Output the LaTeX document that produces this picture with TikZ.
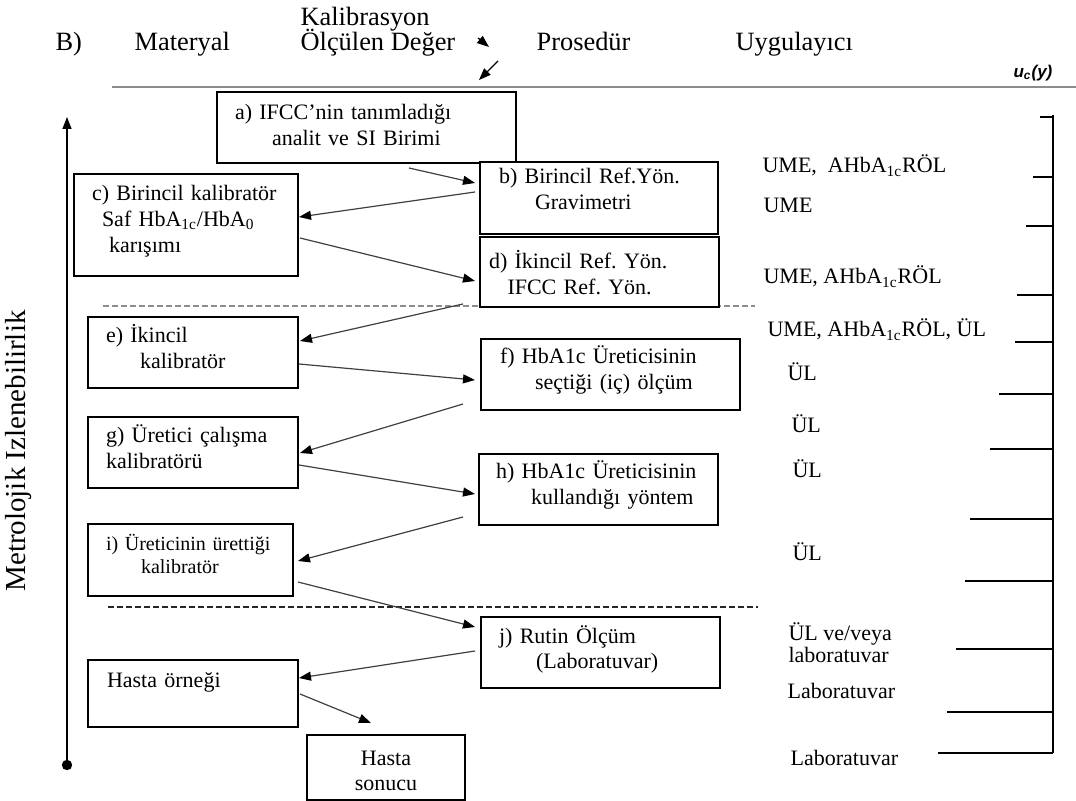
\documentclass[tikz,border=0pt]{standalone}
\usepackage{fontspec}
\setmainfont{Liberation Serif}
\newfontfamily\ucfont{Liberation Sans}
\usetikzlibrary{arrows.meta,calc,positioning}
\frenchspacing

\newcommand{\boxfont}{\fontsize{11}{12.8}\selectfont}
\newcommand{\headfont}{\fontsize{13.2}{14}\selectfont}

\begin{document}
\begin{tikzpicture}
  [
  x=0.5pt, y=-0.5pt, line width=0.6pt, >={Triangle[length=6pt,width=4.5pt,color=black]},
  stepnode/.style={rectangle, draw=black, line width=1pt, fill=white, anchor=north west, align=left, inner ysep=0pt, text height=13pt, font=\boxfont},
  headnode/.style={anchor=base west, inner sep=0pt, font=\headfont},
  usernode/.style={anchor=base west, inner sep=0pt, align=left, font=\boxfont},
  flow/.style={->, draw=black!75, line width=0.6pt},
  ]
  \useasboundingbox (0,0) rectangle (1076,801);

  % column heads
  \node[headnode] (hb) at (55,51) {B)};
  \node[headnode] (hmat) at (134,51) {Materyal};
  \node[headnode] (hkal) at (300,26) {Kalibrasyon};
  \node[headnode] (hval) at (300,51) {Ölçülen Değer};
  \node[headnode] (hpro) at (536,51) {Prosedür};
  \node[headnode] (husr) at (735,51) {Uygulayıcı};
  \node[anchor=base west, inner sep=0pt, font={\ucfont\fontsize{8.5}{10}\selectfont\bfseries\itshape}] (huc) at (1013,78) {u\textsubscript{c}(y)};
  \draw[black!45, line width=1.2pt] (112,87) -- (1076,87);

  \coordinate (hs1) at (478,38);
  \coordinate (he1) at (489,47);
  \coordinate (hs2) at (498,61);
  \coordinate (he2) at (479,80);
  \draw[->] (hs1) -- (he1);
  \draw[->] (hs2) -- (he2);

  % traceability axis
  \coordinate (axbot) at (67,765);
  \coordinate (axtop) at (67,117);
  \draw[->, line width=0.7pt] (axbot) -- (axtop);
  \fill (axbot) circle (2.6pt);
  \node[rotate=90, font=\fontsize{14.5}{16}\selectfont] (trace) at (19,451) {Metrolojik Izlenebilirlik};

  % level separators
  \draw[black!45, dash pattern=on 3pt off 1.5pt, line width=0.8pt] (103,306) -- (755,306);
  \draw[black!85, dash pattern=on 3pt off 1.5pt, line width=0.6pt] (108,607) -- (758,607);

  % boxes
  \node[stepnode, inner xsep=9pt, text width=131.5pt, text height=14pt, text depth=21.5pt] (a) at (216,91)
    {a) IFCC’nin tanımladığı\\\hspace*{18.5pt}analit ve SI Birimi};
  \node[stepnode, inner xsep=9.5pt, text width=100pt, text height=11pt, text depth=25pt] (b) at (479,161)
    {b) Birincil Ref.Yön.\\\hspace*{18pt}Gravimetri};
  \node[stepnode, inner xsep=9pt, text width=94pt, text height=13.5pt, text depth=37.5pt] (c) at (73,173)
    {c)~Birincil~kalibratör\\\hspace*{5pt}Saf HbA\textsubscript{1c}/HbA\textsubscript{0}\\\hspace*{8.5pt}karışımı};
  \node[stepnode, inner xsep=4.5pt, text width=110.5pt, text height=16pt, text depth=19pt] (d) at (479,236)
    {d) İkincil Ref. Yön.\\\hspace*{9.25pt}IFCC Ref. Yön.};
  \node[stepnode, inner xsep=9pt, text width=87pt, text depth=22.5pt] (e) at (87,316)
    {e) İkincil\\\hspace*{17pt}kalibratör};
  \node[stepnode, inner xsep=9.5pt, text width=110.5pt, text height=12.5pt, text depth=23pt] (f) at (480,338)
    {f)~HbA1c~Üreticisinin\\\hspace*{17.5pt}seçtiği (iç) ölçüm};
  \node[stepnode, inner xsep=9pt, text width=87pt, text depth=22.5pt] (g) at (87,416)
    {g) Üretici çalışma\\kalibratörü};
  \node[stepnode, inner xsep=8.5pt, text width=102.5pt, text height=12.5pt, text depth=23pt] (h) at (478,453)
    {h)~HbA1c~Üreticisinin\\\hspace*{17.5pt}kullandığı~yöntem};
  \node[stepnode, font=\fontsize{10}{11.5}\selectfont, inner xsep=9pt, text width=84.5pt, text height=13.5pt, text depth=22.5pt] (i) at (87,523)
    {i)~Üreticinin~ürettiği\\\hspace*{17.5pt}kalibratör};
  \node[stepnode, inner xsep=9pt, text width=101.5pt, text depth=22.5pt] (j) at (480,616)
    {j) Rutin Ölçüm\\\hspace*{18.5pt}(Laboratuvar)};
  \node[stepnode, inner xsep=9.5pt, text width=86pt, text height=13.5pt, text depth=20pt] (k) at (87,659)
    {Hasta örneği};
  \node[stepnode, align=center, inner xsep=5pt, text width=69pt, text height=15pt, text depth=17.5pt] (l) at (306,734)
    {Hasta\\sonucu};

  % who performs each step
  \node[usernode] (u1) at (762,173) {UME,\ \ AHbA\textsubscript{1c}RÖL};
  \node[usernode] (u2) at (763,213) {UME};
  \node[usernode] (u3) at (763,284) {UME, AHbA\textsubscript{1c}RÖL};
  \node[usernode] (u4) at (767,337) {UME, AHbA\textsubscript{1c}RÖL, ÜL};
  \node[usernode] (u5) at (787,381) {ÜL};
  \node[usernode] (u6) at (791,433) {ÜL};
  \node[usernode] (u7) at (792,478) {ÜL};
  \node[usernode] (u8) at (792,560) {ÜL};
  \node[usernode, font=\fontsize{11}{11}\selectfont] (u9) at (788,662) {ÜL ve/veya\\laboratuvar};
  \node[usernode] (u10) at (787,698) {Laboratuvar};
  \node[usernode] (u11) at (790,765) {Laboratuvar};

  % uncertainty scale
  \draw[line width=0.75pt] (1053,115) -- (1053,753);
  \foreach \y/\x in {117/1040, 177/1033, 226/1026, 295/1017, 342/1015, 394/999,
                     449/990, 519/970, 581/965, 649/956, 712/947, 753/938}
    \draw[line width=0.75pt] (\x,\y) -- (1053,\y);

  % chain
  \draw[flow] ($(a.south)+(42.5,4)$) -- ($(b.west)+(-4,-15)$);
  \draw[flow] ($(b.west)+(-4,-6)$) -- ($(c.east)+(0,-8)$);
  \draw[flow] ($(c.east)+(1,13)$) -- ($(d.west)+(-4,9)$);
  \draw[flow] ($(d.south west)+(-16,-4)$) -- ($(e.east)+(1,-11.5)$);
  \draw[flow] ($(e.east)+(0,11.5)$) -- ($(f.west)+(-5,5.5)$);
  \draw[flow] ($(f.south west)+(-17,-7)$) -- ($(g.east)+(1,0.5)$);
  \draw[flow] ($(g.east)+(0,12.5)$) -- ($(h.west)+(-3,4.5)$);
  \draw[flow] ($(h.south west)+(-15,-9)$) -- ($(i.east)+(4,1)$);
  \draw[flow] ($(i.east)+(4,22)$) -- ($(j.west)+(-5,-25.5)$);
  \draw[flow] ($(j.west)+(-5,-1.5)$) -- ($(k.east)+(0,-15.5)$);
  \draw[flow] ($(k.east)+(1,0.5)$) -- ($(l.north)+(-15,-11)$);

\end{tikzpicture}
\end{document}
